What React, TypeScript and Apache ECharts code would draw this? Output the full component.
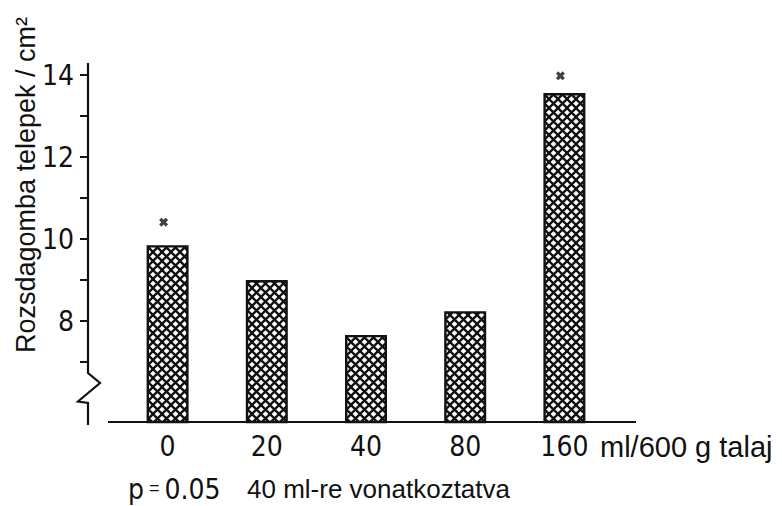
import React, { useEffect, useRef } from 'react';
import * as echarts from 'echarts';

// Dose categories (ml / 600 g soil)
const categories = ['0', '20', '40', '80', '160'];
// Rust colonies per cm²
const colonies = [9.85, 9.0, 7.66, 8.24, 13.56];
// Significance markers (p = 0.05, relative to 40 ml)
const markerValues: (number | string)[] = [10.41, '-', '-', '-', 13.98];
// Y axis ticks / labels
const minorTicks = [7, 8, 9, 10, 11, 12, 13, 14];
const majorTicks = [8, 10, 12, 14];
const yMin = 5.5366;
const yMax = 14.2927;

const yTitle = 'Rozsdagomba telepek / cm²';
const unitText = 'ml/600 g talaj';
const noteRef = '40 ml-re vonatkoztatva';

const NARROW = "'Liberation Sans Narrow', 'DejaVu Sans Condensed', 'Liberation Sans', sans-serif";
const SANS = "'Liberation Sans', Arial, sans-serif";
const INK = '#111';

export default function App() {
  const ref = useRef<HTMLDivElement>(null);
  useEffect(() => {
    if (!ref.current) return;
    const chart = echarts.init(ref.current, undefined, { renderer: 'svg' });

    const tile = 9;
    const canvas = document.createElement('canvas');
    canvas.width = tile;
    canvas.height = tile;
    const ctx = canvas.getContext('2d')!;
    ctx.fillStyle = '#fff';
    ctx.fillRect(0, 0, tile, tile);
    ctx.strokeStyle = INK;
    ctx.lineWidth = 2.3;
    for (const k of [-tile, 0, tile]) {
      ctx.beginPath();
      ctx.moveTo(-2, -2 + k);
      ctx.lineTo(tile + 2, tile + 2 + k);
      ctx.stroke();
      ctx.beginPath();
      ctx.moveTo(-2, tile + 2 + k);
      ctx.lineTo(tile + 2, -2 + k);
      ctx.stroke();
    }

    const option: any = {
      animation: false,
      backgroundColor: '#fff',
      grid: { left: 118, top: 63, width: 496, height: 359 },
      xAxis: {
        type: 'category',
        data: categories,
        axisLine: { show: false },
        axisTick: { show: false },
        axisLabel: { color: INK, fontFamily: NARROW, fontSize: 28, margin: 10 },
      },
      yAxis: {
        type: 'value',
        min: yMin,
        max: yMax,
        offset: 30,
        splitLine: { show: false },
        axisLine: { show: false },
        axisTick: {
          show: true,
          customValues: minorTicks,
          length: 8,
          lineStyle: { color: INK, width: 2 },
        },
        axisLabel: {
          customValues: majorTicks,
          color: INK,
          fontFamily: NARROW,
          fontSize: 28,
          margin: 14,
        },
      },
      series: [
        {
          type: 'bar',
          data: colonies,
          barWidth: 42,
          itemStyle: {
            color: { image: canvas, repeat: 'repeat', imageWidth: tile, imageHeight: tile },
            borderColor: INK,
            borderWidth: 2.4,
          },
        },
        {
          type: 'scatter',
          data: markerValues,
          symbol:
            'path://M0,2.6L2.6,0L5,2.4L7.4,0L10,2.6L7.6,5L10,7.4L7.4,10L5,7.6L2.6,10L0,7.4L2.4,5Z',
          symbolSize: 9,
          symbolOffset: [-4, 0],
          itemStyle: { color: INK },
        },
      ],
      graphic: [
        {
          type: 'polyline',
          shape: { points: [[88, 63], [88, 373], [100, 383], [78, 401.5], [88, 403], [88, 425]] },
          style: { stroke: INK, lineWidth: 2.2, fill: null },
          z: 10,
        },
        {
          type: 'line',
          shape: { x1: 108, y1: 422, x2: 636, y2: 422 },
          style: { stroke: INK, lineWidth: 2.2 },
          z: 10,
        },
        {
          type: 'text',
          x: 25.5,
          y: 185,
          rotation: Math.PI / 2,
          style: {
            text: yTitle,
            fill: INK,
            font: `27px ${SANS}`,
            textAlign: 'center',
            textVerticalAlign: 'middle',
            align: 'center',
            verticalAlign: 'middle',
          },
        },
        {
          type: 'text',
          x: 600,
          y: 446.5,
          style: {
            text: unitText,
            fill: INK,
            font: `29px ${SANS}`,
            textAlign: 'left',
            textVerticalAlign: 'middle',
            align: 'left',
            verticalAlign: 'middle',
          },
        },
        {
          type: 'text',
          x: 128,
          y: 489,
          style: {
            text: '{p|p}{s| = }{n|0.05}',
            fill: INK,
            font: `28px ${NARROW}`,
            textAlign: 'left',
            textVerticalAlign: 'middle',
            align: 'left',
            verticalAlign: 'middle',
            rich: {
              p: { fontSize: 28, fontFamily: NARROW, fill: INK },
              s: { fontSize: 18, fontFamily: SANS, fill: INK, padding: [0, 0, 2, 0] },
              n: { fontSize: 28, fontFamily: NARROW, fill: INK },
            },
          },
        },
        {
          type: 'text',
          x: 247,
          y: 489,
          style: {
            text: noteRef,
            fill: INK,
            font: `26px ${SANS}`,
            textAlign: 'left',
            textVerticalAlign: 'middle',
            align: 'left',
            verticalAlign: 'middle',
          },
        },
      ],
    };
    chart.setOption(option);
    return () => chart.dispose();
  }, []);
  return (
    <div
      ref={ref}
      style={{ position: 'absolute', left: 0, top: 0, width: 782, height: 506, background: '#fff' }}
    />
  );
}
